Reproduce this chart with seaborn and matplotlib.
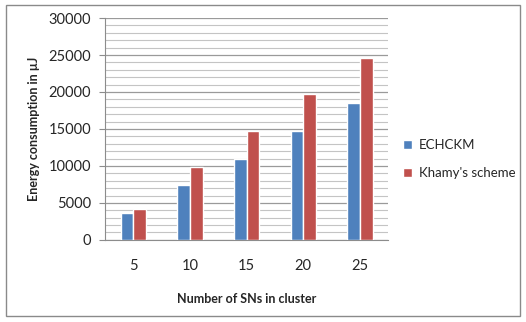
import numpy as np
import pandas as pd
import matplotlib.pyplot as plt
import seaborn as sns
from matplotlib.patches import Rectangle
from matplotlib.ticker import MultipleLocator

# data
sn_counts = ["5", "10", "15", "20", "25"]
echckm = [3700, 7400, 11000, 14750, 18500]
khamy = [4150, 9900, 14750, 19700, 24600]
series_names = ["ECHCKM", "Khamy's scheme"]

df = pd.DataFrame({
    "sns": sn_counts * 2,
    "energy": echckm + khamy,
    "scheme": [series_names[0]] * len(sn_counts) + [series_names[1]] * len(sn_counts),
})

sns.set_style("white")
plt.rcParams["font.family"] = ["Lato", "DejaVu Sans"]

fig = plt.figure(figsize=(5.26, 3.22), dpi=100)
ax = fig.add_axes([0.2, 0.255, 0.538, 0.689])

sns.barplot(data=df, x="sns", y="energy", hue="scheme",
            palette=["#4F81BD", "#C0504D"], width=0.45, gap=0,
            saturation=1, ax=ax, zorder=3)

ax.set_ylim(0, 30000)
ax.yaxis.set_major_locator(MultipleLocator(5000))
ax.yaxis.set_minor_locator(MultipleLocator(1000))
ax.grid(axis="y", which="major", color="#9a9a9a", linewidth=0.9, zorder=0)
ax.grid(axis="y", which="minor", color="#c4c4c4", linewidth=0.8, zorder=0)
ax.set_axisbelow(True)

for side in ["top", "right"]:
    ax.spines[side].set_visible(False)
ax.spines["left"].set_color("#8c8c8c")
ax.spines["bottom"].set_color("#8c8c8c")

ax.tick_params(axis="y", which="major", length=4, color="#8c8c8c",
               labelsize=10.5, pad=6, left=True)
ax.tick_params(axis="y", which="minor", length=0)
ax.tick_params(axis="x", length=0, labelsize=10.5, pad=14)

ax.set_xlabel("Number of SNs in cluster", fontsize=9, fontweight="bold", labelpad=14)
ax.set_ylabel("Energy consumption in µJ", fontsize=9, fontweight="bold", labelpad=6)

leg = ax.legend(loc="center left", bbox_to_anchor=(1.01, 0.365), frameon=False,
                fontsize=9.5, handlelength=0.7, handleheight=0.7,
                labelspacing=1.2, handletextpad=0.5)

# outer chart border
fig.patches.append(Rectangle((0.012, 0.02), 0.976, 0.965, transform=fig.transFigure,
                             fill=False, edgecolor="#8a8a8a", linewidth=1))

fig.savefig("out.png", dpi=100)
